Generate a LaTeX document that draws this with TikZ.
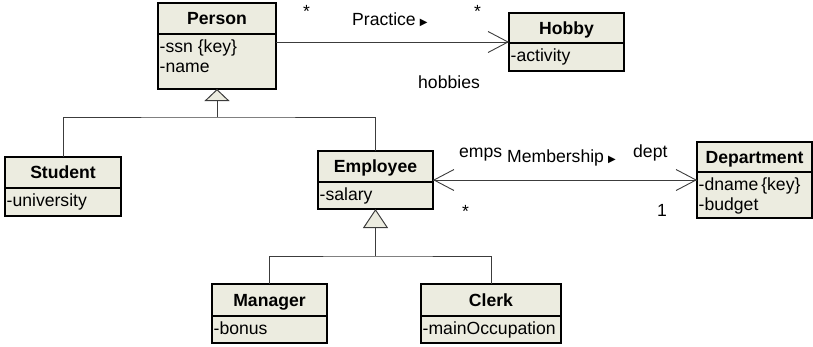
\documentclass[tikz,border=0pt]{standalone}
\usepackage{fontspec}
\setmainfont{Liberation Sans}
\newfontfamily\dvfont{DejaVu Sans}
\usetikzlibrary{arrows.meta}
\definecolor{boxfill}{RGB}{236,236,224}
\definecolor{linecol}{RGB}{60,60,60}
\tikzset{
  cls/.style={draw=black, line width=1.3pt, fill=boxfill, inner sep=0pt, outer sep=0pt},
  clsline/.style={draw=black, line width=1.3pt},
  ttl/.style={font=\fontsize{17.6}{20}\selectfont\bfseries, inner sep=0pt, anchor=base},
  attr/.style={font=\fontsize{17.6}{20}\selectfont, inner sep=0pt, anchor=base west},
  lbl/.style={font=\fontsize{17.6}{20}\selectfont, inner sep=0pt, anchor=base west},
  conn/.style={draw=linecol, line width=0.9pt},
  navarrow/.style={-{Straight Barb[length=20pt,width=21pt,line width=0.9pt]}},
  genarrow/.style={-{Triangle[open,length=#1,width=25pt,fill=boxfill,line width=1pt]}},
}
% name, x, y, w, h, header height, title
\newcommand{\umlcls}[7]{%
  \node[cls, minimum width=#4pt, minimum height=#5pt, anchor=north west] (#1) at (#2,#3) {};
  \draw[clsline] ([yshift=-#6pt]#1.north west) -- ([yshift=-#6pt]#1.north east);
  \node[ttl] (#1-t) at ([yshift={-(#6/2+6)*1pt}]#1.north) {#7};
}
% class, line index, header height, text
\newcommand{\umlattr}[4]{%
  \node[attr] (#1-a#2) at ([xshift=1.5pt,yshift={-(#3+18+(#2-1)*20)*1pt}]#1.north west) {#4};
}
\begin{document}
\begin{tikzpicture}[x=1pt,y=-1pt]
\useasboundingbox (0,0) rectangle (813,346);

\umlcls{person}{158}{3}{118}{86}{31}{Person}
\umlattr{person}{1}{31}{-ssn \{key\}}
\umlattr{person}{2}{31}{-name}

\umlcls{hobby}{509}{13}{115}{58}{30}{Hobby}
\umlattr{hobby}{1}{30}{-activity}

\umlcls{student}{5}{157}{116}{59}{31}{Student}
\umlattr{student}{1}{31}{-university}

\umlcls{employee}{318}{151}{115}{58}{31}{Employee}
\umlattr{employee}{1}{31}{-salary}

\umlcls{department}{697}{142}{115}{76}{30}{Department}
\umlattr{department}{1}{30}{-dname\,\{key\}}
\umlattr{department}{2}{30}{-budget}

\umlcls{manager}{212}{284}{115}{59}{32}{Manager}
\umlattr{manager}{1}{32}{-bonus}

\umlcls{clerk}{421}{284}{140}{59}{32}{Clerk}
\umlattr{clerk}{1}{32}{-mainOccupation}

% Practice association
\draw[conn, navarrow] (person.east |- hobby.west) -- (hobby.west);
\node[lbl] (s1) at (303,17) {*};
\node[lbl] (s2) at (474,17) {*};
\node[lbl] (practice) at (352,25) {Practice\hspace{4pt}{\dvfont\fontsize{10}{12}\selectfont ▶}};
\node[lbl] (hobbies) at (418,88) {hobbies};

% Generalization Person
\coordinate (g1) at (217,117);
\draw[conn] (student.north) |- (g1) -| (employee.north);
\draw[conn, genarrow=12pt] (g1) -- (person.south);

% Generalization Employee
\coordinate (g2) at (375.5,256);
\draw[conn] (manager.north) |- (g2) -| (clerk.north);
\draw[conn, genarrow=19pt] (g2) -- (employee.south);

% Membership association
\draw[conn, navarrow] (department.west) -- (employee.east);
\draw[conn, navarrow] (employee.east) -- (department.west);
\node[lbl] (emps) at (459,157) {emps};
\node[lbl] (membership) at (507,162) {Membership\hspace{4pt}{\dvfont\fontsize{10}{12}\selectfont ▶}};
\node[lbl] (dept) at (633,157) {dept};
\node[lbl] (s3) at (462,217) {*};
\node[lbl] (one) at (657,216) {1};
\end{tikzpicture}
\end{document}
